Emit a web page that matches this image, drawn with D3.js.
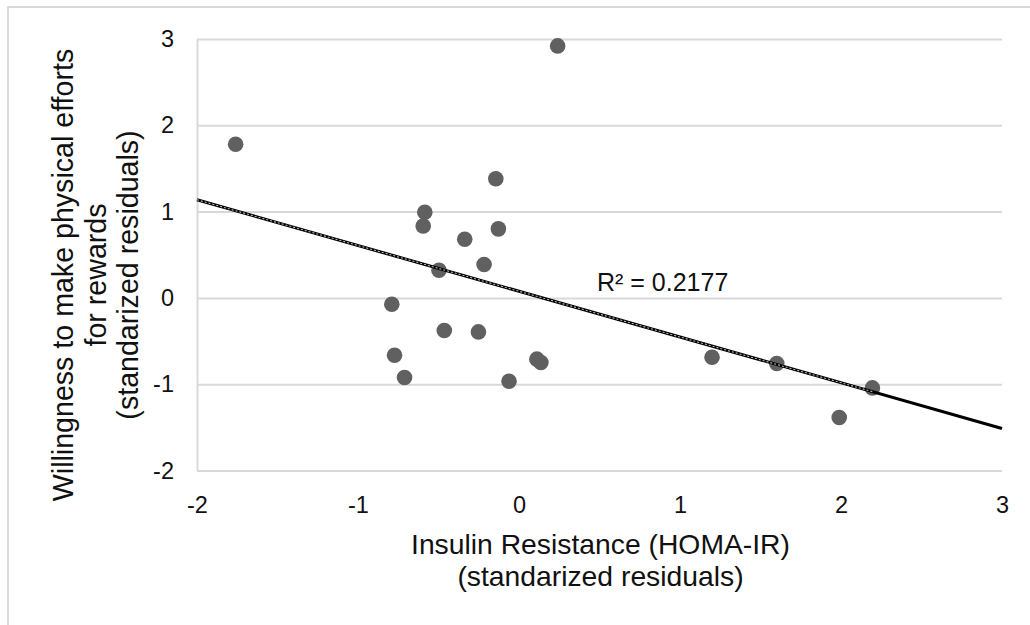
<!DOCTYPE html>
<html>
<head>
<meta charset="utf-8">
<script src="https://cdn.jsdelivr.net/npm/d3@7"></script>
<style>
  html, body { margin: 0; padding: 0; background: #fff; }
  svg { display: block; font-family: "Liberation Sans", Arial, sans-serif; }
</style>
</head>
<body>
<svg id="chart" width="1030" height="625"></svg>
<script>
// ---- Data ----
const xValues = [-1.76, 0.24, -0.144, -0.585, -0.595, -0.337, -0.128, -0.217, -0.497, -0.79,
                 -0.464, -0.252, -0.773, -0.711, -0.062, 0.111, 0.136, 1.199, 1.601, 1.989, 2.195];
const yValues = [1.78, 2.92, 1.38, 0.993, 0.834, 0.68, 0.80, 0.387, 0.32, -0.073,
                 -0.378, -0.394, -0.664, -0.922, -0.965, -0.71, -0.749, -0.687, -0.76, -1.386, -1.043];
const xTicks = [-2, -1, 0, 1, 2, 3];
const yTicks = [-2, -1, 0, 1, 2, 3];
const trendSlope = -0.53;
const trendIntercept = 0.077;
const rSquaredLabel = "R\u00B2 = 0.2177";
const xTitleLines = ["Insulin Resistance (HOMA-IR)", "(standarized residuals)"];
const yTitleLines = ["Willingness to make physical efforts", "for rewards", "(standarized residuals)"];

(function () {
const points = xValues.map((x, i) => ({ x, y: yValues[i] }));
const fmt = d => String(d); // plain hyphen-minus as in the reference

const svg = d3.select("#chart");

// outer frame (extends past the right and bottom edges)
svg.append("rect")
  .attr("x", 8).attr("y", 7)
  .attr("width", 1040).attr("height", 640)
  .attr("fill", "none").attr("stroke", "#d9d9d9").attr("stroke-width", 2);

const pLeft = 197, pRight = 1002, pTop = 39, pBottom = 470.5;
const x = d3.scaleLinear().domain([-2, 3]).range([pLeft, pRight]);
const y = d3.scaleLinear().domain([-2, 3]).range([pBottom, pTop]);

// y axis with horizontal gridlines
const yAxis = svg.append("g")
  .attr("transform", `translate(${pLeft},0)`)
  .call(d3.axisLeft(y).tickValues(yTicks).tickFormat(fmt)
        .tickSizeInner(-(pRight - pLeft)).tickSizeOuter(0).tickPadding(23));
yAxis.select(".domain").attr("stroke", "#d9d9d9").attr("stroke-width", 2);
yAxis.selectAll(".tick line").attr("stroke", "#d9d9d9").attr("stroke-width", 2);
yAxis.selectAll(".tick text")
  .attr("font-size", 23.5).attr("fill", "#111")
  .attr("font-family", "Liberation Sans, Arial, sans-serif");

// x axis (labels only)
const xAxis = svg.append("g")
  .attr("transform", `translate(0,${pBottom})`)
  .call(d3.axisBottom(x).tickValues(xTicks).tickFormat(fmt)
        .tickSize(0).tickPadding(26));
xAxis.select(".domain").remove();
xAxis.selectAll(".tick text")
  .attr("font-size", 23.5).attr("fill", "#111")
  .attr("font-family", "Liberation Sans, Arial, sans-serif");

// points
svg.append("g").selectAll("circle")
  .data(points)
  .join("circle")
  .attr("cx", d => x(d.x))
  .attr("cy", d => y(d.y))
  .attr("r", 7.8)
  .attr("fill", "#606060");

// trend line
const xd = x.domain();
const trend = d => trendIntercept + trendSlope * d;
svg.append("line")
  .attr("x1", x(xd[0])).attr("y1", y(trend(xd[0])))
  .attr("x2", x(xd[1])).attr("y2", y(trend(xd[1])))
  .attr("stroke", "#000").attr("stroke-width", 3);
const xMax = d3.max(xValues);
svg.append("line")
  .attr("x1", x(xd[0])).attr("y1", y(trend(xd[0])))
  .attr("x2", x(xMax)).attr("y2", y(trend(xMax)))
  .attr("stroke", "#b8b8b8").attr("stroke-width", 1.1)
  .attr("stroke-dasharray", "2,2");

// R² label
svg.append("text")
  .attr("x", 597).attr("y", 291)
  .attr("font-size", 25).attr("fill", "#111")
  .text(rSquaredLabel);

// x title
svg.append("g").selectAll("text")
  .data(xTitleLines)
  .join("text")
  .attr("x", (pLeft + pRight) / 2 + 1)
  .attr("y", (d, i) => 554 + i * 31.5)
  .attr("text-anchor", "middle")
  .attr("font-size", 28.3).attr("fill", "#111")
  .text(d => d);

// y title (rotated)
svg.append("g")
  .attr("transform", "translate(0,275) rotate(-90)")
  .selectAll("text")
  .data(yTitleLines)
  .join("text")
  .attr("x", 0)
  .attr("y", (d, i) => 73 + i * 32.5)
  .attr("text-anchor", "middle")
  .attr("font-size", 28.6).attr("fill", "#111")
  .text(d => d);
})();
</script>
</body>
</html>
